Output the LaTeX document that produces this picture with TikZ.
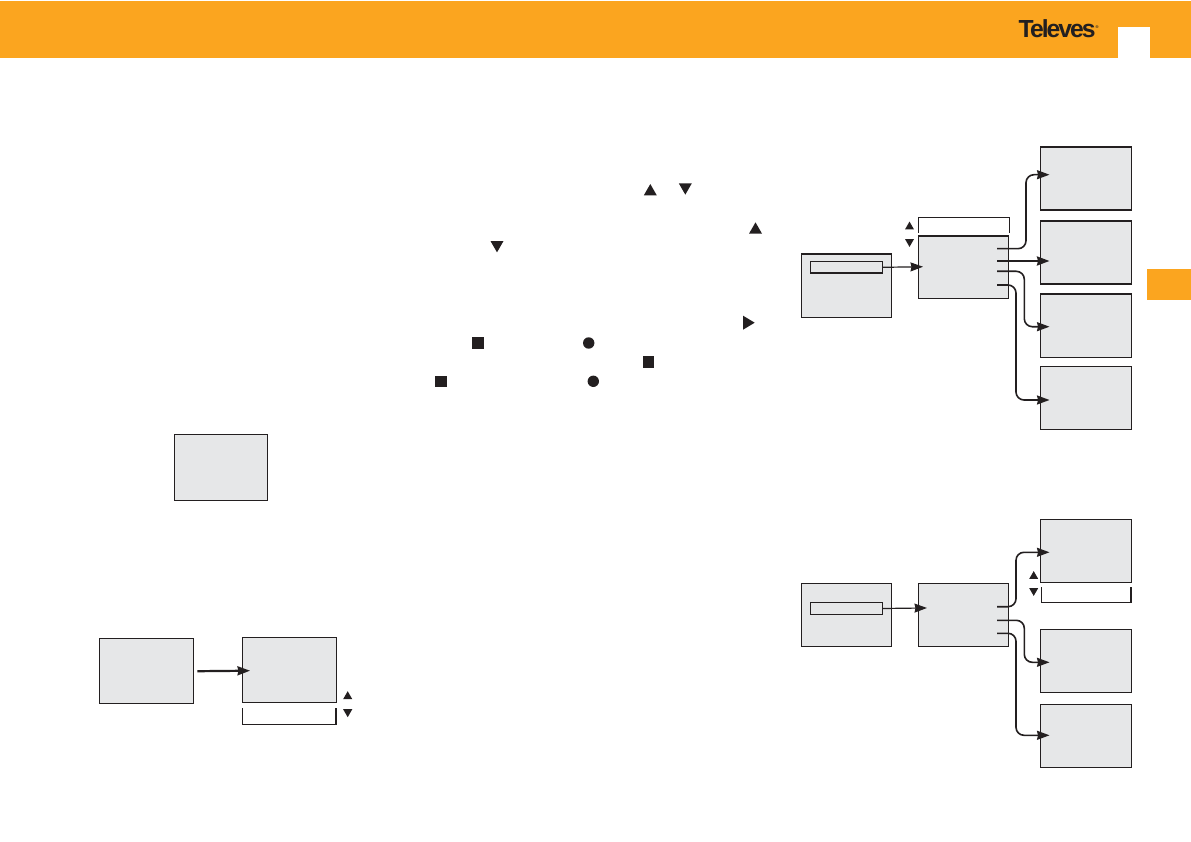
\documentclass[tikz,border=0pt]{standalone}
\usepackage{fontspec}
\newfontfamily\logofont[LetterSpace=-8]{Liberation Sans}
\usetikzlibrary{arrows.meta}
\definecolor{bandorange}{HTML}{FBA51F}
\definecolor{inkblack}{HTML}{231F20}
\definecolor{screengrey}{HTML}{E6E7E8}
\begin{document}
\begin{tikzpicture}[x=1pt,y=-1pt,line join=miter]
    \tikzstyle{screen}=[rectangle,draw=inkblack,fill=screengrey,line width=1.1pt,inner sep=0pt,minimum width=91pt,minimum height=63pt,anchor=north west]
    \tikzstyle{option}=[screen,fill=none,minimum width=72.5pt,minimum height=11.5pt]
    \tikzstyle{link}=[draw=inkblack,line width=1.6pt,rounded corners=8pt,-{Stealth[inset=1pt,length=12.5pt,width=9pt]}]
    \tikzstyle{boldlink}=[link,line width=2.2pt]
    \tikzstyle{thinlink}=[link,line width=1.2pt]
    \tikzstyle{bracket}=[draw=inkblack,line width=1.1pt]
    \tikzstyle{glyph}=[fill=inkblack]
    \useasboundingbox (0,0) rectangle (1191,842);

    % header band and side tab
    \fill[bandorange] (0,0.7) rectangle (1191,57.7);
    \fill[white] (1118,27) rectangle (1150,57.7);
    \fill[bandorange] (1146.5,269) rectangle (1191,300.5);
    \node[anchor=base west,inner sep=0pt,text=inkblack,font=\logofont\bfseries\fontsize{24.7}{26}\selectfont] (logo) at (1018.5,37.7) {Televes\raisebox{9pt}{\fontsize{4}{4}\selectfont ®}};

    % screens on the left
    \node[screen,minimum width=92.8pt,minimum height=66pt] (intro) at (174,434.3) {};
    \node[screen,minimum width=93.8pt,minimum height=65pt] (start) at (99,638.2) {};
    \node[screen,minimum width=93.8pt,minimum height=65pt] (level) at (242,637.3) {};

    % upper menu
    \node[screen,minimum width=89.5pt] (upmain) at (801,253.5) {};
    \node[option] (upitem) at (809.5,261) {};
    \node[screen,minimum width=90pt,minimum height=62.5pt] (upmenu) at (918,235.5) {};
    \foreach \num/\y in {1/146.5, 2/220.5, 3/293.5, 4/366}
        \node[screen] (U-\num) at (1040,\y) {};

    % lower menu
    \node[screen,minimum width=89.5pt] (lowmain) at (801,583.3) {};
    \node[option] (lowitem) at (809.5,602.2) {};
    \node[screen,minimum width=90pt] (lowmenu) at (918,583.3) {};
    \foreach \num/\y in {1/519.3, 2/628.8, 3/704.3}
        \node[screen] (L-\num) at (1040,\y) {};

    % arrow ends
    \coordinate (levelin) at (250,670.7);
    \coordinate (upin) at (923,266.75);
    \coordinate (lowin) at (927,607.95);
    \draw[boldlink,shorten <=3.5pt] (start.east) -- (levelin);
    \draw[thinlink] (upitem.east) -- (upin);
    \draw[thinlink] (lowitem.east) -- (lowin);

    \foreach \num/\ya/\xm/\yb in {1/248.7/1026/174.7, 3/271.3/1024.3/326.7, 4/285/1016/400} {
        \coordinate (US-\num) at (997,\ya);
        \coordinate (UT-\num) at (1049.5,\yb);
        \draw[link] (US-\num) -- (\xm,\ya) -- (\xm,\yb) -- (UT-\num);
    }
    \coordinate (US-2) at (997,261);
    \coordinate (UT-2) at (1049.5,261);
    \draw[boldlink] (US-2) -- (UT-2);

    \foreach \num/\ya/\xm/\yb in {1/606.7/1016/552.3, 2/620.3/1024.3/662.3, 3/633.3/1016/735.3} {
        \coordinate (LS-\num) at (997,\ya);
        \coordinate (LT-\num) at (1049.5,\yb);
        \draw[link] (LS-\num) -- (\xm,\ya) -- (\xm,\yb) -- (LT-\num);
    }

    % brackets
    \draw[bracket] (242.4,708.3) -- (242.4,724.3) -- (336,724.3) -- (336,708.3);
    \draw[bracket] (918.4,233) -- (918.4,217.5) -- (1009.5,217.5) -- (1009.5,233);
    \draw[bracket] (1041.4,587.3) -- (1041.4,602.3) -- (1131,602.3) -- (1131,587.3);

    % key glyphs
    \foreach \x/\y/\s in {347.7/695.2/4.6, 909.5/225.5/4.5, 1033.7/575/4.5, 650.3/189.7/6.5, 755.5/228/6.5}
        \fill[glyph] (\x,\y-.87*\s) -- (\x+\s,\y+.87*\s) -- (\x-\s,\y+.87*\s) -- cycle;
    \foreach \x/\y/\s in {347.7/713.2/4.6, 909.5/243/4.5, 1033.7/592/4.5, 685.3/189/6.5, 497/246.7/6.5}
        \fill[glyph] (\x,\y+.87*\s) -- (\x+\s,\y-.87*\s) -- (\x-\s,\y-.87*\s) -- cycle;
    \fill[glyph] (743,315.7) -- (754.7,322.7) -- (743,329.7) -- cycle;
    \foreach \x/\y in {478/343, 648.5/362, 441/381.3}
        \fill[glyph] (\x-5.8,\y-5.8) rectangle (\x+5.8,\y+5.8);
    \foreach \x/\y in {588.7/343, 593.3/381.3}
        \fill[glyph] (\x,\y) circle (5.7);
\end{tikzpicture}
\end{document}
